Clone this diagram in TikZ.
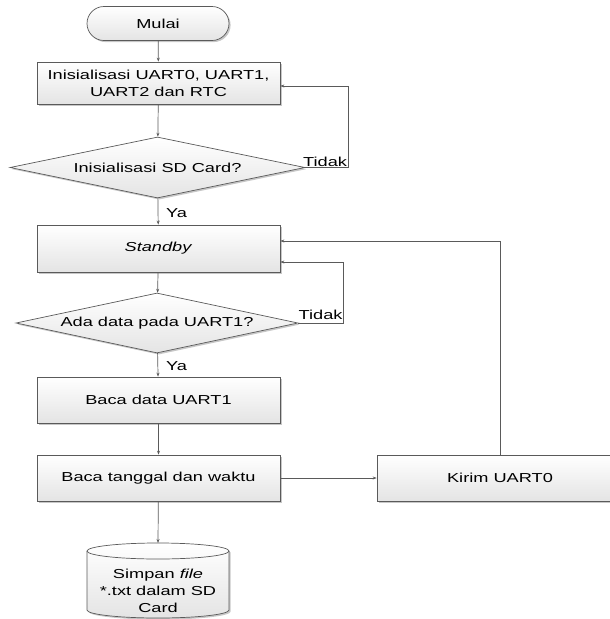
\documentclass[tikz,border=0pt]{standalone}
\usepackage{fontspec}
\setmainfont{Liberation Sans}[FakeStretch=1.4]
\usetikzlibrary{shapes.geometric,shapes.misc,shadows,arrows.meta}
\definecolor{linec}{HTML}{5A5A5A}
\definecolor{fillb}{HTML}{E4E4E4}
\newcommand\mainsz{\fontsize{13}{16.7}\selectfont}
\tikzset{
  base/.style={draw=linec, line width=0.7pt, top color=white, bottom color=fillb,
    drop shadow={shadow xshift=1.6pt, shadow yshift=-1.6pt, fill=black, opacity=0.22},
    font=\mainsz, inner sep=0pt, align=center},
  procbox/.style={base, rectangle, minimum width=243pt, minimum height=46pt},
  termbox/.style={base, rounded rectangle, minimum width=142pt, minimum height=34pt},
  decbox/.style={base, diamond, aspect=4.8},
  arr/.style={draw=linec, line width=0.7pt, -{Stealth[length=4pt,width=3pt]}},
  lbl/.style={font=\mainsz, inner sep=0pt, text=black}
}
\begin{document}
\begin{tikzpicture}[x=1pt,y=1pt]
\useasboundingbox (0,0) rectangle (610,-619);
\clip (0,0) rectangle (610,-619);

\node[termbox] (mulai) at (158,-23.5) {Mulai};
\node[procbox, minimum height=42pt] (init) at (158.5,-83) {Inisialisasi UART0, UART1,\\UART2 dan RTC};
\node[decbox, minimum width=295pt, minimum height=61pt] (d1) at (157.5,-167.5) {Inisialisasi SD Card?};
\node[procbox, minimum height=47pt] (standby) at (158.5,-248.5) {\textit{Standby}};
\node[decbox, minimum width=282pt, minimum height=60pt] (d2) at (157,-323) {Ada data pada UART1?};
\node[procbox] (baca) at (158.5,-400) {Baca data UART1};
\node[procbox] (tanggal) at (158.5,-478) {Baca tanggal dan waktu};
\node[procbox, minimum width=246pt] (kirim) at (500,-478) {Kirim UART0};

% cylinder (storage)
\path[base] (87,-551) -- (87,-610)
  arc[start angle=180, end angle=360, x radius=71, y radius=8]
  -- (229,-551)
  arc[start angle=0, end angle=180, x radius=71, y radius=8] -- cycle;
\draw[draw=linec, line width=0.7pt] (87,-551) arc[start angle=180, end angle=360, x radius=71, y radius=8];
\coordinate (dbtop) at (158,-543);
\node[lbl, align=center, font=\mainsz] (db) at (158,-591) {Simpan \textit{file}\\*.txt dalam SD\\Card};

% labels
\node[lbl, anchor=west] (ya1) at (166,-213) {Ya};
\node[lbl, anchor=west] (ya2) at (166,-366) {Ya};
\node[lbl, anchor=base west] (tidak1) at (303,-166.5) {Tidak};
\node[lbl, anchor=base west] (tidak2) at (298.5,-319.5) {Tidak};

% connectors
\draw[arr] (mulai) -- (init);
\draw[arr] (init) -- (d1);
\draw[arr] (d1) -- (standby);
\draw[arr] (d1.east) -- ++(43,0) |- ([yshift=-3pt]init.east);
\draw[arr] (standby) -- (d2);
\draw[arr] (d2.east) -- ++(45,0) |- ([yshift=-13.5pt]standby.east);
\draw[arr] (d2) -- (baca);
\draw[arr] (baca) -- (tanggal);
\draw[arr] (tanggal) -- (kirim);
\draw[arr] (kirim.north) |- ([yshift=7.5pt]standby.east);
\draw[arr] (tanggal) -- (dbtop);
\end{tikzpicture}
\end{document}
